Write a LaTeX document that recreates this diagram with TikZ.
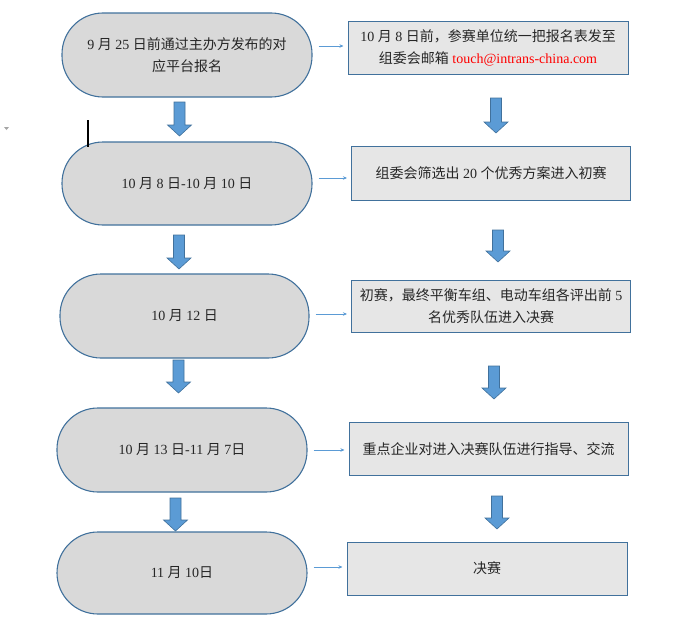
\documentclass[tikz,border=0pt]{standalone}
\usepackage{fontspec}
\setmainfont{Liberation Serif}
\newfontfamily\cjk{Noto Sans CJK SC}
\newcommand{\zh}[1]{{\cjk #1}}
\usepackage{tikz}
\usetikzlibrary{arrows.meta}

\definecolor{edgeblue}{HTML}{41719C}
\definecolor{fillblue}{HTML}{5B9BD5}
\definecolor{pillgray}{HTML}{D9D9D9}
\definecolor{boxgray}{HTML}{E6E6E6}

\begin{document}
\begin{tikzpicture}[
  x=1pt, y=-1pt,
  pill/.style={draw=edgeblue, line width=1.1pt, fill=pillgray, rectangle, rounded corners=41pt, align=center, minimum width=250pt, minimum height=84pt, font=\fontsize{14}{22}\selectfont, text=black!85},
  box/.style={draw=edgeblue, line width=1pt, fill=boxgray, align=center, minimum width=279pt, minimum height=53pt, font=\fontsize{14}{22}\selectfont, text=black!85},
  link/.style={-{Stealth[length=4pt, width=3.5pt]}, draw=fillblue, line width=0.8pt},
  blockarrow/.style={fill=fillblue, draw=edgeblue, line width=0.6pt}
]
\useasboundingbox (0,0) rectangle (686,621);
% time line on the left
\node[pill] (p1) at (187,55) {9 \zh{月} 25 \zh{日前通过主办方发布的对}\\\zh{应平台报名}};
\node[pill, minimum height=83pt] (p2) at (187,183.5) {10 \zh{月} 8 \zh{日}-10 \zh{月} 10 \zh{日}};
\node[pill, minimum width=249pt] (p3) at (184.5,316) {10 \zh{月} 12 \zh{日}};
\node[pill] (p4) at (182,450) {10 \zh{月} 13 \zh{日}-11 \zh{月} 7\zh{日}};
\node[pill, minimum height=82pt] (p5) at (182,573) {11 \zh{月} 10\zh{日}};
% tasks on the right
\node[box, minimum width=280pt] (b1) at (488,48) {10 \zh{月} 8 \zh{日前，参赛单位统一把报名表发至}\\\zh{组委会邮箱} \textcolor{red}{touch@intrans-china.com}};
\node[box, minimum height=54pt] (b2) at (491,173) {\zh{组委会筛选出} 20 \zh{个优秀方案进入初赛}};
\node[box, minimum height=52pt] (b3) at (491,306.5) {\zh{初赛，最终平衡车组、电动车组各评出前} 5\\\zh{名优秀队伍进入决赛}};
\node[box] (b4) at (488.5,449) {\zh{重点企业对进入决赛队伍进行指导、交流}};
\node[box, minimum width=280pt] (b5) at (487,568.5) {\zh{决赛}};
% thin links
\foreach \i/\dy in {1/9, 2/5.5, 3/2, 4/0, 5/6}
  \draw[link, shorten >=4pt] ([xshift=6pt, yshift=\dy pt]p\i.east) coordinate (s\i) -- (s\i -| b\i.west);
% block arrows
\foreach \x/\t/\b in {179.5/102/136, 179/235/269, 178.5/360/393, 175.5/498/531,
                      496/98/133, 498/230/262, 494/366/399, 497/496/529}
  \draw[blockarrow] (\x-5.5,\t) -- (\x+5.5,\t) -- (\x+5.5,\b-11) -- (\x+12,\b-11)
    -- (\x,\b) -- (\x-12,\b-11) -- (\x-5.5,\b-11) -- cycle;
% stray marks
\draw[line width=1.6pt] (88,120) -- (88,147);
\fill[black!35] (4,127) -- (9,127) -- (6.5,130) -- cycle;
\end{tikzpicture}
\end{document}
